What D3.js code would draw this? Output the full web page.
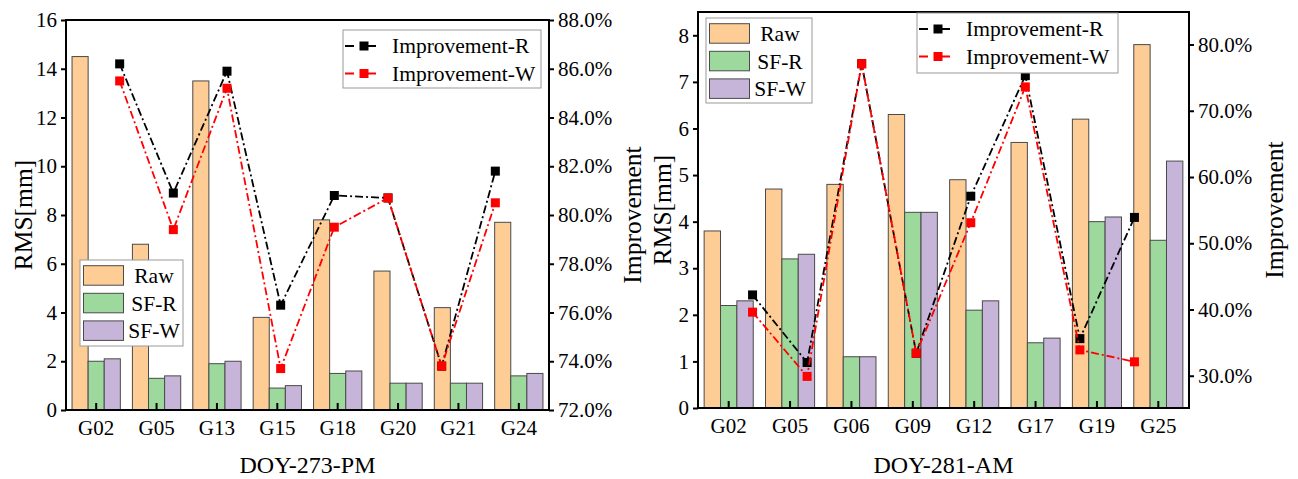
<!DOCTYPE html>
<html>
<head>
<meta charset="utf-8">
<script src="https://cdn.jsdelivr.net/npm/d3@7"></script>
<style>
  body { margin: 0; background: #fff; }
  svg { display: block; }
  text { font-family: "Liberation Serif", "Times New Roman", serif; fill: #000; }
</style>
</head>
<body>
<svg id="chart" width="1298" height="479"></svg>
<script>
// data

const series_names = ['Raw', 'SF-R', 'SF-W']
const line_names = ['Improvement-R', 'Improvement-W']

// DOY-273-PM
const pm_sats = ['G02', 'G05', 'G13', 'G15', 'G18', 'G20', 'G21', 'G24']
const pm_raw  = [14.5, 6.8, 13.5, 3.8, 7.8, 5.7, 4.2, 7.7]
const pm_sfr  = [2.0, 1.3, 1.9, 0.9, 1.5, 1.1, 1.1, 1.4]
const pm_sfw  = [2.1, 1.4, 2.0, 1.0, 1.6, 1.1, 1.1, 1.5]
const pm_imp_r = [86.2, 80.9, 85.9, 76.3, 80.8, 80.7, 73.8, 81.8]
const pm_imp_w = [85.5, 79.4, 85.2, 73.7, 79.5, 80.7, 73.8, 80.5]
const pm_rms_ticks = [0, 2, 4, 6, 8, 10, 12, 14, 16]
const pm_imp_ticks = [72, 74, 76, 78, 80, 82, 84, 86, 88]

// DOY-281-AM
const am_sats = ['G02', 'G05', 'G06', 'G09', 'G12', 'G17', 'G19', 'G25']
const am_raw  = [3.8, 4.7, 4.8, 6.3, 4.9, 5.7, 6.2, 7.8]
const am_sfr  = [2.2, 3.2, 1.1, 4.2, 2.1, 1.4, 4.0, 3.6]
const am_sfw  = [2.3, 3.3, 1.1, 4.2, 2.3, 1.5, 4.1, 5.3]
const am_imp_r = [42.2, 32.0, 77.1, 33.4, 57.1, 75.3, 35.6, 53.9]
const am_imp_w = [39.6, 29.9, 77.1, 33.4, 53.1, 73.6, 33.9, 32.1]
const am_rms_ticks = [0, 1, 2, 3, 4, 5, 6, 7, 8]
const am_imp_ticks = [30, 40, 50, 60, 70, 80]

const BAR_COLORS = ['#fecc95', '#9dd89c', '#c6b5d8']
const LINE_COLORS = ['#000000', '#ff0000']
const DASH = '8,3,2,3'
const FONT_TICK = 21
const FONT_LEGEND = 21.5
const FONT_TITLE = 24
const FONT_YTITLE = 25.5

const svg = d3.select('#chart')

const panels = [
  { sats: pm_sats, bars: [pm_raw, pm_sfr, pm_sfw], lines: [pm_imp_r, pm_imp_w],
    rms_domain: [0, 16], rms_ticks: pm_rms_ticks,
    imp_domain: [72, 88], imp_ticks: pm_imp_ticks,
    title: 'DOY-273-PM',
    box: { left: 66, right: 549, top: 20, bottom: 410 },
    rms_title_x: 32, imp_title_x: 641,
    bar_legend: { x: 80, y: 260, w: 103, h: 86 },
    line_legend: { x: 343, y: 30, w: 198, h: 58 } },
  { sats: am_sats, bars: [am_raw, am_sfr, am_sfw], lines: [am_imp_r, am_imp_w],
    rms_domain: [0, 8.5], rms_ticks: am_rms_ticks,
    imp_domain: [25.13, 84.91], imp_ticks: am_imp_ticks,
    title: 'DOY-281-AM',
    box: { left: 698, right: 1189, top: 12, bottom: 408 },
    rms_title_x: 671, imp_title_x: 1283,
    bar_legend: { x: 706, y: 18, w: 106, h: 85 },
    line_legend: { x: 917, y: 13, w: 201, h: 60 } }
]

panels.forEach(render_panel)

function render_panel(p) {
  let b = p.box
  let g = svg.append('g')

  let x = d3.scaleBand()
    .domain(p.sats)
    .range([b.left, b.right])
    .paddingInner(0.2)
    .paddingOuter(0.1)

  let xs = d3.scaleBand()
    .domain(series_names)
    .range([0, x.bandwidth()])

  // line points sit on their own evenly spaced grid (Origin quirk)
  let xl = d3.scalePoint()
    .domain(p.sats)
    .range([b.left, b.right])
    .padding(1)

  let y = d3.scaleLinear().domain(p.rms_domain).range([b.bottom, b.top])
  let y2 = d3.scaleLinear().domain(p.imp_domain).range([b.bottom, b.top])

  // bars
  series_names.forEach((name, si) => {
    g.append('g')
      .selectAll('rect')
      .data(p.bars[si])
      .join('rect')
        .attr('x', (d, i) => x(p.sats[i]) + xs(name))
        .attr('y', d => y(d))
        .attr('width', xs.bandwidth())
        .attr('height', d => y(0) - y(d))
        .attr('fill', BAR_COLORS[si])
        .attr('stroke', '#4a4a4a')
        .attr('stroke-width', 1)
  })

  // improvement lines
  line_names.forEach((name, li) => {
    let vals = p.lines[li]
    let line = d3.line()
      .x((d, i) => xl(p.sats[i]))
      .y(d => y2(d))
    g.append('path')
      .datum(vals)
      .attr('d', line)
      .attr('fill', 'none')
      .attr('stroke', LINE_COLORS[li])
      .attr('stroke-width', 1.8)
      .attr('stroke-dasharray', DASH)
    g.append('g')
      .selectAll('rect')
      .data(vals)
      .join('rect')
        .attr('x', (d, i) => xl(p.sats[i]) - 4.5)
        .attr('y', d => y2(d) - 4.5)
        .attr('width', 9)
        .attr('height', 9)
        .attr('fill', LINE_COLORS[li])
  })

  // axes
  let ax_l = g.append('g')
    .attr('transform', 'translate(' + b.left + ',0)')
    .call(d3.axisLeft(y).tickValues(p.rms_ticks).tickSize(5).tickPadding(4).tickFormat(d3.format('d')))
  let ax_r = g.append('g')
    .attr('transform', 'translate(' + b.right + ',0)')
    .call(d3.axisRight(y2).tickValues(p.imp_ticks).tickSize(5).tickPadding(4).tickFormat(d => d3.format('.1f')(d) + '%'))
  let ax_b = g.append('g')
    .attr('transform', 'translate(0,' + b.bottom + ')')
    .call(d3.axisBottom(x).tickSize(-7).tickPadding(10).tickSizeOuter(0))

  ;[ax_l, ax_r, ax_b].forEach(ax => {
    ax.attr('font-family', null)
    ax.select('.domain').remove()
    ax.selectAll('line').attr('stroke', '#000').attr('stroke-width', 2)
    ax.selectAll('text')
      .style('font-family', '"Liberation Serif", "Times New Roman", serif')
      .attr('font-size', FONT_TICK)
      .attr('fill', '#000')
  })

  // frame
  g.append('rect')
    .attr('x', b.left).attr('y', b.top)
    .attr('width', b.right - b.left).attr('height', b.bottom - b.top)
    .attr('fill', 'none').attr('stroke', '#000').attr('stroke-width', 2)

  // titles
  g.append('text')
    .attr('x', (b.left + b.right) / 2).attr('y', 473)
    .attr('text-anchor', 'middle').attr('font-size', FONT_TITLE)
    .text(p.title)
  let mid = (b.top + b.bottom) / 2
  g.append('text')
    .attr('transform', 'translate(' + p.rms_title_x + ',' + mid + ') rotate(-90)')
    .attr('text-anchor', 'middle').attr('font-size', FONT_YTITLE)
    .text('RMS[mm]')
  g.append('text')
    .attr('transform', 'translate(' + p.imp_title_x + ',' + mid + ') rotate(-90)')
    .attr('text-anchor', 'middle').attr('font-size', FONT_YTITLE)
    .text('Improvement')

  // bar legend
  let bl = p.bar_legend
  let lg = g.append('g').attr('transform', 'translate(' + bl.x + ',' + bl.y + ')')
  lg.append('rect')
    .attr('width', bl.w).attr('height', bl.h)
    .attr('fill', '#fff').attr('stroke', '#999').attr('stroke-width', 1)
  series_names.forEach((name, si) => {
    let ry = 5.7 + si * 27.6
    lg.append('rect')
      .attr('x', 3.5).attr('y', ry).attr('width', 40).attr('height', 19.5)
      .attr('fill', BAR_COLORS[si]).attr('stroke', '#4a4a4a')
    lg.append('text')
      .attr('x', 74).attr('y', ry + 17.5)
      .attr('text-anchor', 'middle').attr('font-size', FONT_LEGEND)
      .text(name)
  })

  // line legend
  let ll = p.line_legend
  let lg2 = g.append('g').attr('transform', 'translate(' + ll.x + ',' + ll.y + ')')
  lg2.append('rect')
    .attr('width', ll.w).attr('height', ll.h)
    .attr('fill', '#fff').attr('stroke', '#999').attr('stroke-width', 1)
  line_names.forEach((name, li) => {
    let cy = 16 + li * 27.5
    lg2.append('line')
      .attr('x1', 2).attr('x2', 39).attr('y1', cy).attr('y2', cy)
      .attr('stroke', LINE_COLORS[li]).attr('stroke-width', 1.8)
      .attr('stroke-dasharray', '9,13,9')
    lg2.append('rect')
      .attr('x', 21 - 4.5).attr('y', cy - 4.5).attr('width', 9).attr('height', 9)
      .attr('fill', LINE_COLORS[li])
    lg2.append('text')
      .attr('x', 49).attr('y', cy + 7)
      .attr('font-size', FONT_LEGEND)
      .text(name)
  })
}
</script>
</body>
</html>
